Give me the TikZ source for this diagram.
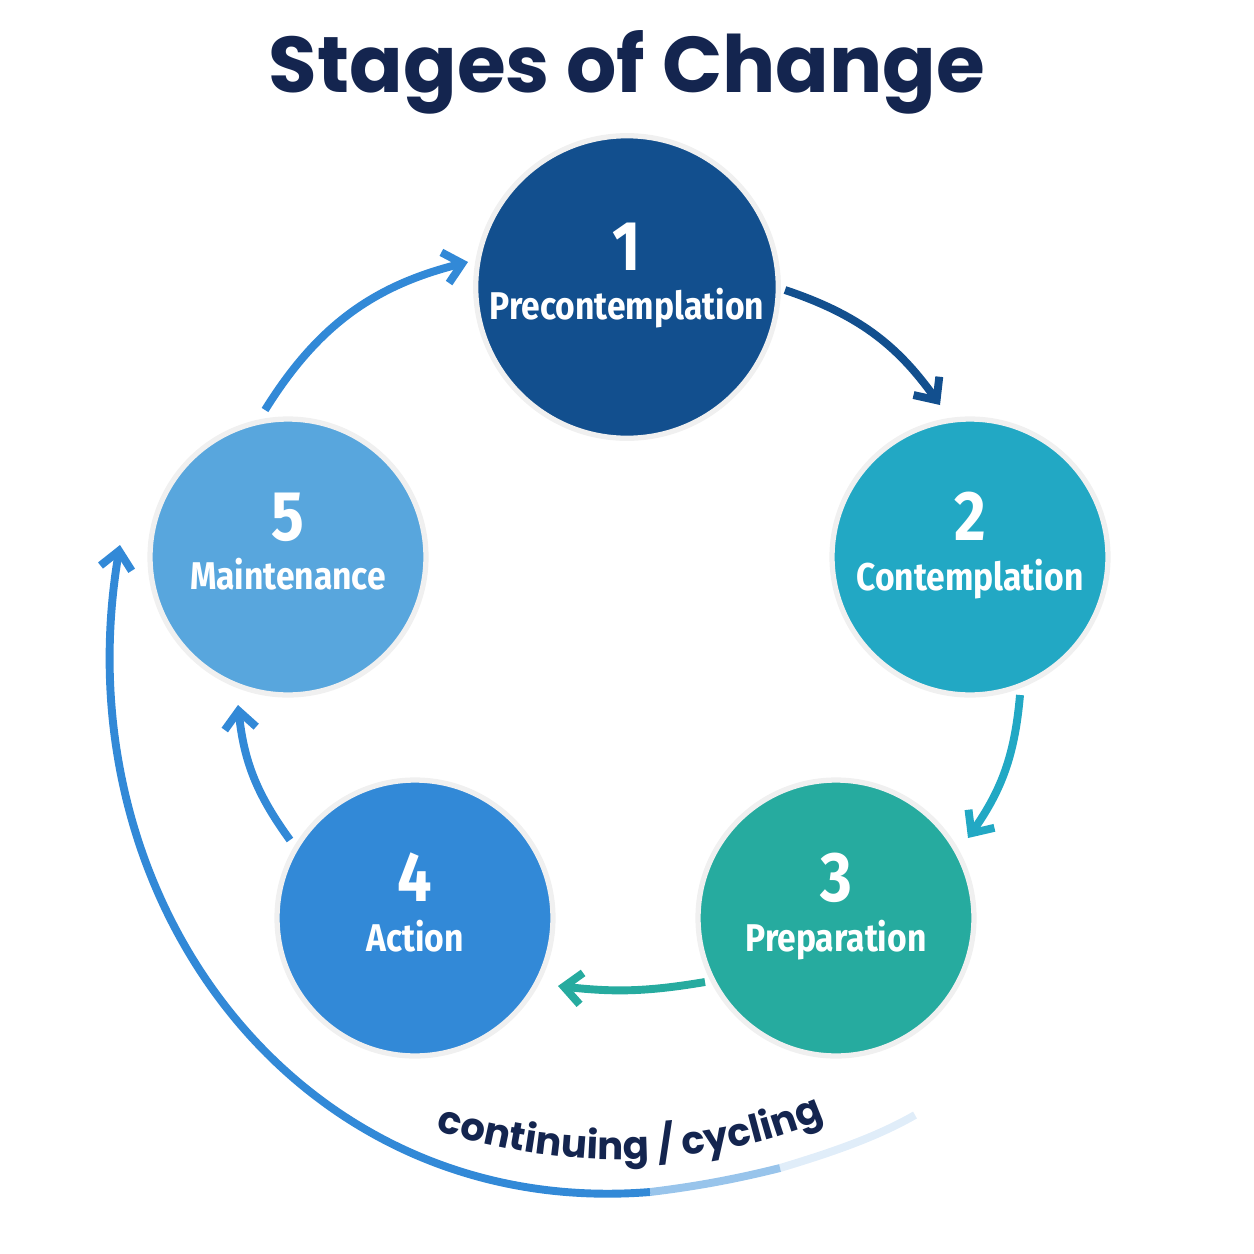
\documentclass[tikz,border=0pt]{standalone}
\usepackage{fontspec}
\setmainfont{Fira Sans}
\newfontfamily\titlefont{Poppins}
\newfontfamily\stagefont[FakeStretch=0.87]{Fira Sans}
\usetikzlibrary{decorations.text,arrows.meta}
\definecolor{navy}{HTML}{14254F}
\definecolor{stA}{HTML}{124F8E}
\definecolor{stB}{HTML}{22A8C4}
\definecolor{stC}{HTML}{26AB9F}
\definecolor{stD}{HTML}{3289D7}
\definecolor{stE}{HTML}{58A6DD}
\begin{document}
\begin{tikzpicture}[x=0.02cm,y=-0.02cm,
    stage/.style={circle,fill=#1,draw=black!6,line width=3pt,inner sep=0pt,minimum size=5.52cm,
      text=white,align=center,font=\stagefont\fontsize{22}{26}\selectfont\bfseries},
    link/.style={#1,line width=4.5pt,-{Straight Barb[length=10pt,width=18pt,line width=4.5pt]}}
  ]
  \useasboundingbox (0,0) rectangle (1254,1254);
  \node[font=\titlefont\fontsize{45}{50}\selectfont\bfseries,text=navy] (title) at (627,72) {Stages of Change};
  % Stages
  \node[stage=stA,minimum size=5.8cm] (s1) at (627,287) {{\fontsize{40}{44}\selectfont 1}\\[2pt]Precontemplation\\[-8pt]};
  \node[stage=stB] (s2) at (970,557) {{\fontsize{40}{44}\selectfont 2}\\[2pt]Contemplation\\[-8pt]};
  \node[stage=stC] (s3) at (836,918) {{\fontsize{40}{44}\selectfont 3}\\[2pt]Preparation\\[-8pt]};
  \node[stage=stD] (s4) at (415,918) {{\fontsize{40}{44}\selectfont 4}\\[2pt]Action\\[-8pt]};
  \node[stage=stE] (s5) at (288,557) {{\fontsize{40}{44}\selectfont 5}\\[2pt]Maintenance\\[-8pt]};
  % Connections
  \coordinate (a1) at (785,290); \coordinate (b1) at (940,405);
  \coordinate (a2) at (1020,695); \coordinate (b2) at (968,838);
  \coordinate (a3) at (705,982); \coordinate (b3) at (558,986);
  \coordinate (a4) at (290,840); \coordinate (b4) at (238,705);
  \coordinate (a5) at (265,410); \coordinate (b5) at (468,262);
  \draw[link=stA] (a1) to[bend left=18] (b1);
  \draw[link=stB] (a2) to[bend left=15] (b2);
  \draw[link=stC] (a3) to[bend left=8] (b3);
  \draw[link=stD] (a4) to[bend left=15] (b4);
  \draw[link=stD] (a5) to[bend left=22] (b5);
  % Cycling arc
  \coordinate (c0) at (915,1115); \coordinate (c1) at (120,545);
  \draw[stD!15,line width=4.5pt] (c0) .. controls (880,1135) and (840,1150) .. (780,1168);
  \draw[stD!50,line width=4.5pt] (780,1168) .. controls (740,1178) and (700,1186) .. (650,1192);
  \draw[link=stD] (650,1192) .. controls (300,1220) and (60,900) .. (c1);
  \path[decorate,decoration={text along path,text align=center,text format delimiters={|}{|},
      text={|\titlefont\fontsize{22}{26}\selectfont\bfseries\color{navy}|continuing / cycling}}]
    (420,1125) .. controls (560,1175) and (720,1170) .. (840,1112);
\end{tikzpicture}
\end{document}
